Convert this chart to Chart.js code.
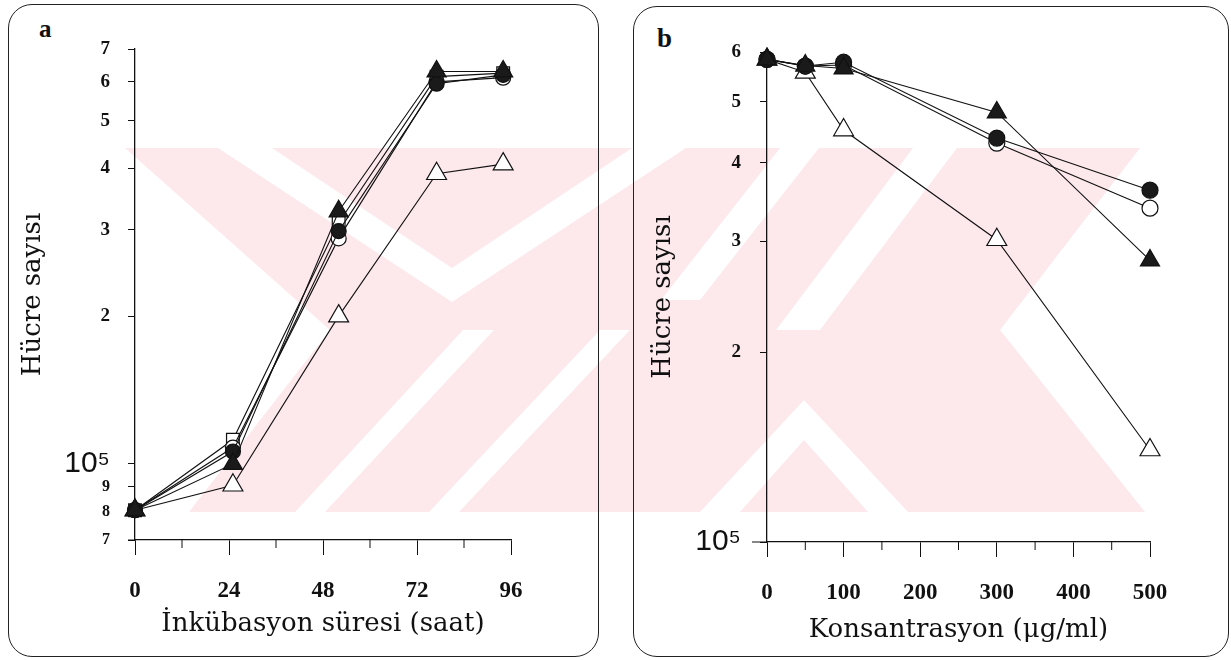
<!DOCTYPE html>
<html>
<head>
<meta charset="utf-8">
<script src="https://cdn.jsdelivr.net/npm/chart.js@4.4.1/dist/chart.umd.min.js"></script>
<style>
  body { margin: 0; background: #fff; width: 1231px; height: 660px; position: relative; overflow: hidden; }
  .wm { position: absolute; left: 0; top: 0; }
  .box { position: absolute; border: 1.5px solid #222; border-radius: 24px; box-sizing: border-box; }
  .panel { position: absolute; top: 0; }
  .tag { position: absolute; font: bold 25px 'Liberation Serif', serif; color: #111; }
</style>
</head>
<body>
<!-- watermark, behind the plots -->
<svg class="wm" width="1231" height="660">
  <g fill="#fde8ec">
    <polygon points="125,148 1140,148 1000,330 1145,512 189,512 330,330"/>
  </g>
  <g fill="#fff">
    <polygon points="218,148 272,148 452,268 632,148 686,148 452,302"/>
    <polygon points="295,512 325,512 494,330 463,330"/>
    <polygon points="429,512 459,512 630,330 600,330"/>
    <polygon points="700,512 740,512 804,440 868,512 908,512 804,400"/>
    <polygon points="780,148 819,148 700,300 661,300"/>
    <polygon points="913,148 957,148 820,330 776,330"/>
  </g>
</svg>

<div class="box" style="left:8px;top:4px;width:591px;height:653px"></div>
<div class="box" style="left:633px;top:6px;width:596px;height:651px"></div>
<div class="tag" style="left:39px;top:15px">a</div>
<div class="tag" style="left:657px;top:23px;font-size:27px">b</div>

<div class="panel" style="left:0"><canvas id="chartA" width="615" height="660"></canvas></div>
<div class="panel" style="left:615px"><canvas id="chartB" width="616" height="660"></canvas></div>

<script>
// --- DATA | PANEL A (incubation time) --- //
const timeHours = [0, 25, 52, 77, 94]
const aOpenCircle = [80500, 108000, 288000, 600000, 612000]
const aFilledCircle = [80500, 106000, 298000, 595000, 620000]
const aOpenSquare = [80500, 112000, 310000, 615000, 625000]
const aFilledTriangle = [80500, 100000, 327000, 630000, 630000]
const aOpenTriangle = [80500, 90500, 200000, 390000, 408000]
const aTimeTicks = [0, 12, 24, 36, 48, 60, 72, 84, 96]
const aCountTicks = [70000, 80000, 90000, 100000, 200000, 300000, 400000, 500000, 600000, 700000]

// --- DATA | PANEL B (concentration) --- //
const concentration = [0, 50, 100, 300, 500]
const bOpenCircle = [584000, 570000, 572000, 430000, 339000]
const bFilledCircle = [584000, 570000, 578000, 438000, 362000]
const bFilledTriangle = [584000, 571000, 565000, 481000, 280000]
const bOpenTriangle = [584000, 557000, 451000, 302000, 140000]
const bConcTicks = [0, 50, 100, 150, 200, 250, 300, 350, 400, 450, 500]
const bCountTicks = [100000, 200000, 300000, 400000, 500000, 600000]

const serif = "'Liberation Serif', 'Times New Roman', serif"
const wideSerif = "'DejaVu Serif', serif"
const sans = "'Liberation Sans', Arial, sans-serif"
const ink = '#111'

const toPoints = (xs, ys) => xs.map((x, i) => ({ x: x, y: ys[i] }))

const series = (xs, ys, style, filled, radius) => ({
  data: toPoints(xs, ys),
  borderColor: ink,
  borderWidth: 1.1,
  pointStyle: style,
  pointRadius: radius,
  pointBorderColor: ink,
  pointBorderWidth: 1.2,
  pointBackgroundColor: filled ? '#1a1a1a' : '#fff',
  tension: 0,
  clip: false
})

// y tick label: 10^5 gets its own bigger sans font
const countLabel = v => (v === 100000 ? '10\u2075' : String(Math.round(v / (v < 100000 ? 10000 : 100000))))
const countFont = ctx => {
  const v = ctx.tick && ctx.tick.value
  if (v === 100000) return { family: sans, size: 30 }
  if (v < 100000) return { family: serif, size: 16, weight: 'bold' }
  return { family: serif, size: 19, weight: 'bold' }
}

// short minor ticks + axis line running a bit past the y axis
const minorTicks = {
  id: 'minorTicks',
  afterDraw: chart => {
    const x = chart.scales.x
    const area = chart.chartArea
    const opts = chart.options.plugins.minorTicks
    const ctx = chart.ctx
    ctx.save()
    ctx.strokeStyle = ink
    ctx.lineWidth = 1
    ctx.beginPath()
    x.ticks.forEach(t => {
      if (t.value % opts.major !== 0) {
        const px = x.getPixelForValue(t.value)
        ctx.moveTo(px, area.bottom)
        ctx.lineTo(px, area.bottom + 8)
      }
    })
    ctx.moveTo(area.left - opts.extend, area.bottom)
    ctx.lineTo(area.left, area.bottom)
    ctx.stroke()
    ctx.restore()
  }
}

const makeOptions = cfg => ({
  responsive: false,
  animation: false,
  devicePixelRatio: 1,
  layout: { padding: { left: 0, top: cfg.top, right: cfg.right, bottom: 0 } },
  plugins: {
    legend: { display: false },
    tooltip: { enabled: false },
    minorTicks: { major: cfg.major, extend: cfg.extend }
  },
  scales: {
    x: {
      type: 'linear',
      min: cfg.xMin,
      max: cfg.xMax,
      afterBuildTicks: s => { s.ticks = cfg.xTicks.map(v => ({ value: v })) },
      afterFit: s => { s.height = cfg.xHeight },
      border: { display: true, color: ink, width: 1.3 },
      grid: {
        drawOnChartArea: false,
        tickLength: 15,
        tickWidth: 1,
        tickColor: ctx => (ctx.tick && ctx.tick.value % cfg.major === 0 ? ink : 'rgba(0,0,0,0)')
      },
      ticks: {
        padding: cfg.xPad,
        color: ink,
        maxRotation: 0,
        autoSkip: false,
        font: { family: serif, size: 23, weight: 'bold' },
        callback: v => (v % cfg.major === 0 ? String(v) : '')
      },
      title: {
        display: true,
        text: cfg.xTitle,
        color: ink,
        font: { family: wideSerif, size: cfg.titleSize },
        padding: { top: 0, bottom: cfg.xTitlePad }
      }
    },
    y: {
      type: 'logarithmic',
      min: cfg.yMin,
      max: cfg.yMax,
      afterBuildTicks: s => { s.ticks = cfg.yTicks.map(v => ({ value: v })) },
      afterFit: s => { s.width = cfg.yWidth },
      border: { display: true, color: ink, width: 1.3 },
      grid: { drawOnChartArea: false, tickLength: 7, tickWidth: 1, tickColor: ink },
      ticks: {
        padding: cfg.yPad,
        color: ink,
        autoSkip: false,
        font: countFont,
        callback: countLabel
      },
      title: {
        display: true,
        text: 'Hücre sayısı',
        color: ink,
        font: { family: wideSerif, size: cfg.titleSize },
        padding: { top: cfg.yTitlePad, bottom: 0 }
      }
    }
  }
})

// --- CHART | PANEL A --- //
new Chart(document.getElementById('chartA'), {
  type: 'line',
  data: {
    datasets: [
      series(timeHours, aFilledTriangle, 'triangle', true, 11),
      series(timeHours, aFilledCircle, 'circle', true, 7.5),
      series(timeHours, aOpenCircle, 'circle', false, 7.5),
      series(timeHours, aOpenSquare, 'rect', false, 9),
      series(timeHours, aOpenTriangle, 'triangle', false, 11.5)
    ]
  },
  options: makeOptions({
    top: 49, right: 104, xHeight: 120, yWidth: 135,
    xMin: 0, xMax: 96, xTicks: aTimeTicks, major: 24, extend: 7,
    yMin: 70000, yMax: 700000, yTicks: aCountTicks,
    xPad: 22, xTitlePad: 20, yPad: 18, yTitlePad: 18, titleSize: 26,
    xTitle: 'İnkübasyon süresi (saat)'
  }),
  plugins: [minorTicks]
})

// --- CHART | PANEL B --- //
new Chart(document.getElementById('chartB'), {
  type: 'line',
  data: {
    datasets: [
      series(concentration, bFilledTriangle, 'triangle', true, 11),
      series(concentration, bFilledCircle, 'circle', true, 8),
      series(concentration, bOpenCircle, 'circle', false, 8),
      series(concentration, bOpenTriangle, 'triangle', false, 11.5)
    ]
  },
  options: makeOptions({
    top: 52, right: 81, xHeight: 118, yWidth: 152,
    xMin: 0, xMax: 500, xTicks: bConcTicks, major: 100, extend: 15,
    yMin: 100000, yMax: 600000, yTicks: bCountTicks,
    xPad: 22, xTitlePad: 14, yPad: 19, yTitlePad: 33, titleSize: 26,
    xTitle: 'Konsantrasyon (μg/ml)'
  }),
  plugins: [minorTicks]
})
</script>
</body>
</html>
